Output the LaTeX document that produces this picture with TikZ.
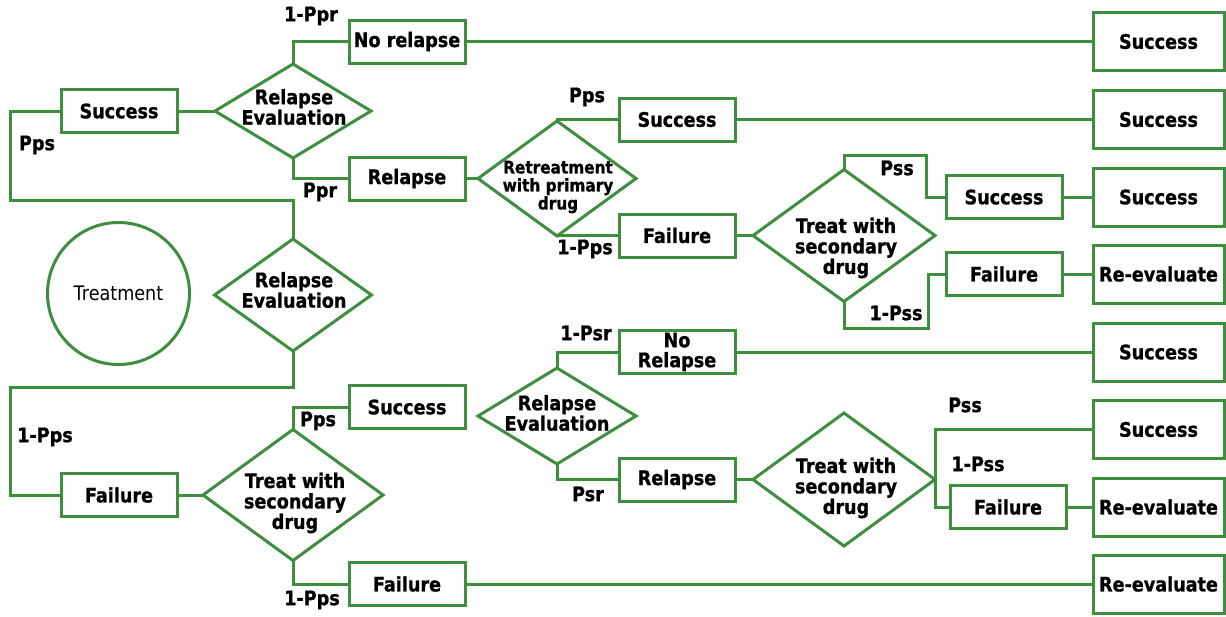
\documentclass[tikz,border=0pt]{standalone}
\usepackage{fontspec}
\setmainfont{DejaVu Sans}[FakeStretch=0.88, BoldFeatures={FakeBold=1}]
\usetikzlibrary{shapes.geometric}
\definecolor{tgreen}{RGB}{61,142,61}
\begin{document}
\begin{tikzpicture}[x=1pt,y=-1pt,
  every node/.style={inner sep=0pt, outer sep=0pt},
  lbl/.style={font=\fontsize{20}{20.5}\selectfont\bfseries, align=center, text=black},
  small/.style={font=\fontsize{17.4}{18}\selectfont\bfseries, align=center, text=black},
  box/.style={lbl, draw=tgreen, line width=3pt, rectangle, minimum width=116, minimum height=43},
  endbox/.style={box, minimum width=131, minimum height=58},
  dia/.style={draw=tgreen, line width=3pt, diamond},
  wire/.style={draw=tgreen, line width=3pt}]
\useasboundingbox (0,0) rectangle (1226,616);

% start node
\node[draw=tgreen, line width=3pt, circle, minimum size=142,
      font=\fontsize{20}{20}\selectfont] (treat) at (118.5,293.5) {Treatment};

% left column
\node[box] (s1) at (119,111) {Success};
\node[box] (fl) at (119,495) {Failure};

% decision diamonds
\node[dia, minimum width=156, minimum height=94]  (re1) at (293,111) {};
\node[lbl] (re1t) at (294,107) {Relapse\\Evaluation};
\node[dia, minimum width=157, minimum height=112] (re2) at (293,295) {};
\node[lbl] (re2t) at (294,290) {Relapse\\Evaluation};
\node[dia, minimum width=158, minimum height=115] (rt) at (557,178.5) {};
\node[small] (rtt) at (558,187) {Retreatment\\with primary\\drug};
\node[dia, minimum width=182, minimum height=132] (t2) at (844,235.5) {};
\node[lbl] (t2t) at (846,248) {Treat with\\secondary\\drug};
\node[dia, minimum width=180, minimum height=131] (t3) at (293,495) {};
\node[lbl] (t3t) at (295,503) {Treat with\\secondary\\drug};
\node[dia, minimum width=158, minimum height=96]  (re3) at (557,416) {};
\node[lbl] (re3t) at (557,413) {Relapse\\Evaluation};
\node[dia, minimum width=182, minimum height=133] (t4) at (844,479.5) {};
\node[lbl] (t4t) at (846,488) {Treat with\\secondary\\drug};

% outcome boxes
\node[box] (nr1) at (407,41.5)  {No relapse};
\node[box] (rl1) at (407,178.5) {Relapse};
\node[box] (ps1) at (677,119.5) {Success};
\node[box] (pf1) at (677,235.5) {Failure};
\node[box] (ss2) at (1004,197)  {Success};
\node[box] (fs2) at (1004,274)  {Failure};
\node[box, font=\fontsize{20}{20}\selectfont\bfseries] (nr2) at (677,352) {No\\Relapse};
\node[box] (rl2) at (677,479.5) {Relapse};
\node[box] (sb)  at (407,407)   {Success};
\node[box] (fb)  at (407,584)   {Failure};
\node[box] (fbr) at (1008,507)  {Failure};

% final column
\node[endbox] (r1) at (1158.5,41.5)  {Success};
\node[endbox] (r2) at (1158.5,119.5) {Success};
\node[endbox] (r3) at (1158.5,197)   {Success};
\node[endbox] (r4) at (1158.5,274)   {Re-evaluate};
\node[endbox] (r5) at (1158.5,352)   {Success};
\node[endbox] (r6) at (1158.5,429.5) {Success};
\node[endbox] (r7) at (1158.5,507)   {Re-evaluate};
\node[endbox] (r8) at (1158.5,584)   {Re-evaluate};

% bend points
\coordinate (k1) at (10,200);
\coordinate (k2) at (10,387.5);
\coordinate (k3) at (926,155);
\coordinate (k4) at (928,328);

% connectors
\draw[wire] (s1.west) -| (k1) -| (re2.north);
\draw[wire] (fl.west) -| (k2) -| (re2.south);
\draw[wire] (s1.east) -- (re1.west);
\draw[wire] (re1.north) |- (nr1.west);
\draw[wire] (re1.south) |- (rl1.west);
\draw[wire] (nr1.east) -- (r1.west);
\draw[wire] (rl1.east) -- (rt.west);
\draw[wire] (rt.north) |- (ps1.west);
\draw[wire] (rt.south) |- (pf1.west);
\draw[wire] (ps1.east) -- (r2.west);
\draw[wire] (pf1.east) -- (t2.west);
\draw[wire] (t2.north) |- (k3) |- (ss2.west);
\draw[wire] (t2.south) |- (k4) |- (fs2.west);
\draw[wire] (ss2.east) -- (r3.west);
\draw[wire] (fs2.east) -- (r4.west);
\draw[wire] (fl.east) -- (t3.west);
\draw[wire] (t3.north) |- (sb.west);
\draw[wire] (t3.south) |- (fb.west);
\draw[wire] (fb.east) -- (r8.west);
\draw[wire] (re3.north) |- (nr2.west);
\draw[wire] (re3.south) |- (rl2.west);
\draw[wire] (nr2.east) -- (r5.west);
\draw[wire] (rl2.east) -- (t4.west);
\draw[wire] (t4.east) |- (r6.west);
\draw[wire] (t4.east) |- (fbr.west);
\draw[wire] (fbr.east) -- (r7.west);

% branch probabilities
\node[lbl] (p1)  at (311,16)  {1-Ppr};
\node[lbl] (p2)  at (37,145)  {Pps};
\node[lbl] (p3)  at (320,192) {Ppr};
\node[lbl] (p4)  at (587,97)  {Pps};
\node[lbl] (p5)  at (585,249) {1-Pps};
\node[lbl] (p6)  at (897,168) {Pss};
\node[lbl] (p7)  at (896,313) {1-Pss};
\node[lbl] (p8)  at (586,333) {1-Psr};
\node[lbl] (p9)  at (588,494) {Psr};
\node[lbl] (p10) at (965,405) {Pss};
\node[lbl] (p11) at (978,464) {1-Pss};
\node[lbl] (p12) at (45,437)  {1-Pps};
\node[lbl] (p13) at (318,421) {Pps};
\node[lbl] (p14) at (312,600) {1-Pps};
\end{tikzpicture}
\end{document}
